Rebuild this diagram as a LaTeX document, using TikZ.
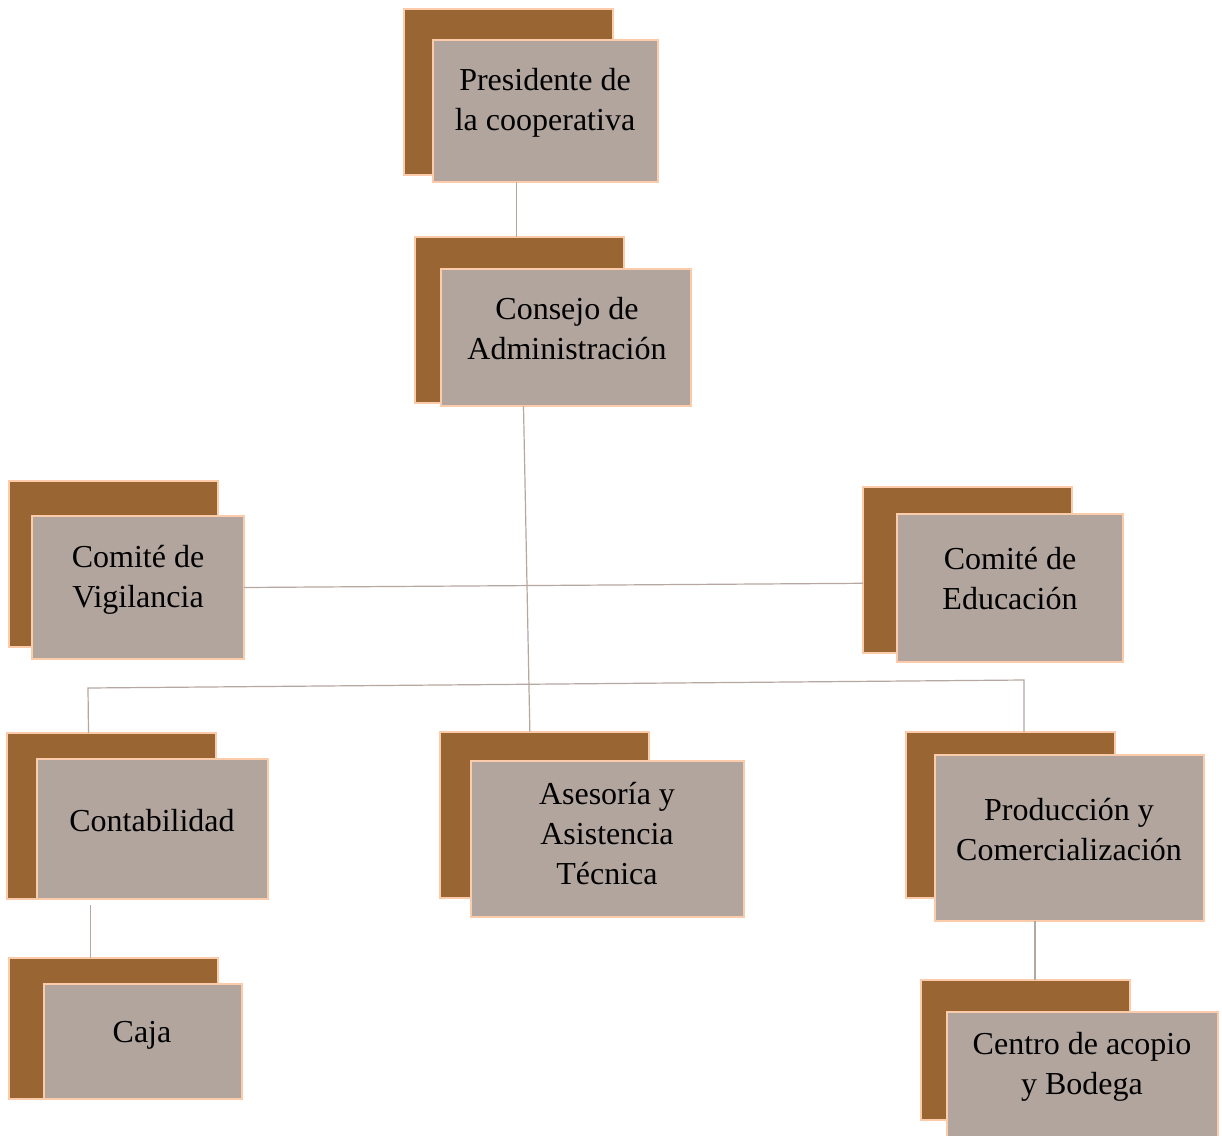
\documentclass[tikz,border=0pt]{standalone}
\usepackage{fontspec}
\setmainfont{Liberation Serif}
\usepackage{tikz}
\usetikzlibrary{positioning,calc}
\definecolor{bark}{HTML}{996633}
\definecolor{stone}{HTML}{B2A59E}
\definecolor{peach}{HTML}{FBCBAA}
\definecolor{wire}{HTML}{B5A8A0}

\begin{document}
\begin{tikzpicture}[
  x=0.75pt, y=-0.75pt,
  back/.style={rectangle, draw=peach, line width=0.8pt, fill=bark, inner sep=0pt, outer sep=0pt, minimum width=156.75pt, minimum height=124.5pt},
  front/.style={rectangle, draw=peach, line width=2.2pt, fill=stone, inner sep=0pt, outer sep=0pt},
  txt/.style={align=center, inner sep=0pt, font=\fontsize{24}{30}\selectfont},
  link/.style={draw=wire, line width=0.9pt}
]
\useasboundingbox (0,0) rectangle (1222,1136);

% back boxes
\node[back] (presB) at (508.5,92) {};
\node[back] (consB) at (519.5,320) {};
\node[back] (vigB) at (113.5,564) {};
\node[back] (eduB) at (967.5,570) {};
\node[back] (contB) at (111.5,816) {};
\node[back] (asesB) at (544.5,815) {};
\node[back] (prodB) at (1010.5,815) {};
\node[back, minimum height=105.75pt] (cajaB) at (113.5,1028.5) {};
\node[back, minimum height=105pt] (centB) at (1025.5,1050) {};

% front boxes
\node[front, minimum width=168.75pt, minimum height=106.5pt] (pres) at (545.5,111) {};
\node[front, minimum width=187.5pt, minimum height=102.75pt] (cons) at (566,337.5) {};
\node[front, minimum width=159pt, minimum height=107.25pt] (vig) at (138,587.5) {};
\node[front, minimum width=169.5pt, minimum height=111pt] (edu) at (1010,588) {};
\node[front, minimum width=173.25pt, minimum height=105pt] (cont) at (152.5,829) {};
\node[front, minimum width=204.75pt, minimum height=117pt] (ases) at (607.5,839) {};
\node[front, minimum width=201.75pt, minimum height=124.5pt] (prod) at (1069.5,838) {};
\node[front, minimum width=148.5pt, minimum height=86.25pt] (caja) at (143,1041.5) {};
\node[front, minimum width=203.25pt, minimum height=97.5pt] (cent) at (1082.5,1077) {};

% texts
\node[txt] (presT) at (545,103) {Presidente de\\la cooperativa};
\node[txt] (consT) at (567,329) {Consejo de\\Administración};
\node[txt] (vigT) at (138,580) {Comité de\\Vigilancia};
\node[txt] (eduT) at (1010,579) {Comité de\\Educación};
\node[txt] (contT) at (152,821) {Contabilidad};
\node[txt] (asesT) at (607,834) {Asesoría y\\Asistencia\\Técnica};
\node[txt] (prodT) at (1069,830) {Producción y\\Comercialización};
\node[txt] (cajaT) at (142,1035) {Caja};
\node[txt] (centT) at (1082,1067) {Centro de acopio\\y Bodega};

% connectors
\coordinate (consTop) at ($(consB.north west)!0.485!(consB.north east)$);
\coordinate (brL) at (88,688);
\coordinate (brR) at (1024,680);
\draw[link] (consTop |- pres.south) -- (consTop);
\draw[link] ($(cons.south west)!0.33!(cons.south east)$) -- ($(asesB.north west)!0.43!(asesB.north east)$);
\draw[link] (vig.east) -- ($(eduB.north west)!0.58!(eduB.south west)$);
\draw[link] ($(contB.north west)!0.39!(contB.north east)$) -- (brL) -- (brR) -- ($(prodB.north west)!0.565!(prodB.north east)$);
\draw[link] ($(cajaB.north west)!0.39!(cajaB.north east)$) ++(0,-53) -- ($(cajaB.north west)!0.39!(cajaB.north east)$);
\draw[link] ($(centB.north west)!0.545!(centB.north east)$) ++(0,-59) -- ($(centB.north west)!0.545!(centB.north east)$);
\end{tikzpicture}
\end{document}
